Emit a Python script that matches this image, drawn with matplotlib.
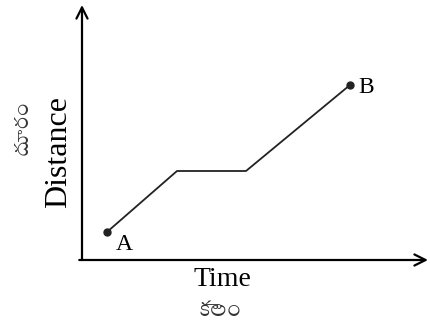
import matplotlib
matplotlib.use("Agg")
import matplotlib.pyplot as plt

# distance-time graph: A -> rest -> B
time = [2.5, 9.5, 16.4, 26.8]
distance = [2.8, 8.9, 8.9, 17.5]
point_labels = ["A", "B"]

serif = ["Liberation Serif", "Tiro Telugu", "DejaVu Sans"]
plt.rcParams["font.family"] = serif

fig = plt.figure(figsize=(4.3, 3.29), dpi=100)
ax = fig.add_axes([82 / 430, 69 / 329, 346 / 430, 255 / 329])
ax.set_xlim(0, 34.6)
ax.set_ylim(0, 25.5)
ax.axis("off")

# axes drawn as arrows
arrow = dict(arrowstyle="->", lw=1.6, color="black", mutation_scale=20,
             shrinkA=0, shrinkB=0)
ax.annotate("", xy=(1, 0), xytext=(-0.008, 0), xycoords="axes fraction",
            arrowprops=arrow)
ax.annotate("", xy=(0, 1), xytext=(0, 0), xycoords="axes fraction",
            arrowprops=arrow)

ax.plot(time, distance, color="#222222", lw=1.3)
ax.plot([time[0], time[-1]], [distance[0], distance[-1]], "o",
        color="#222222", ms=5)

ax.annotate(point_labels[0], (time[0], distance[0]), xytext=(6, -13),
            textcoords="offset points", fontsize=17, ha="left")
ax.annotate(point_labels[1], (time[-1], distance[-1]), xytext=(6, -6),
            textcoords="offset points", fontsize=17, ha="left")

fig.text(222 / 430, 1 - 280 / 329, "Time", fontsize=20, ha="center",
         va="center")
fig.text(220 / 430, 1 - 312 / 329, "కాలం", fontsize=15, ha="center",
         va="center", color="#333333")
fig.text(59 / 430, 1 - 152 / 329, "Distance", fontsize=23, rotation=90,
         ha="center", va="center")
fig.text(23 / 430, 1 - 128 / 329, "దూరం", fontsize=14, rotation=90,
         ha="center", va="center", color="#333333")

fig.savefig("out.png", dpi=100)
